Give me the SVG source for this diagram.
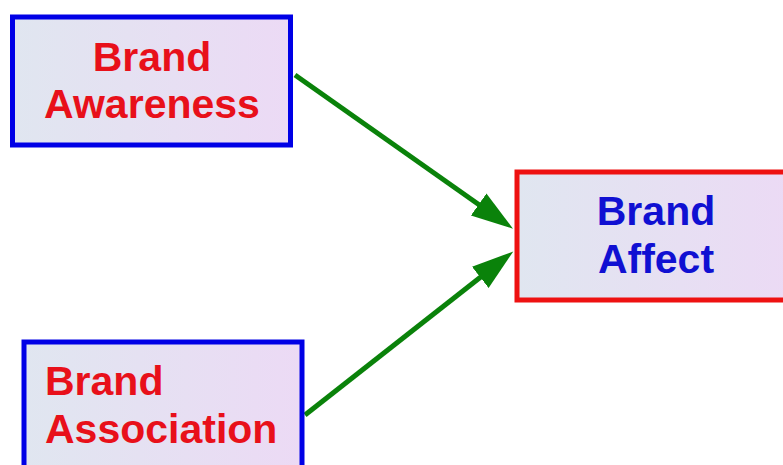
<svg xmlns="http://www.w3.org/2000/svg" width="783" height="465" viewBox="0 0 783 465">
<style>
.box{fill:url(#bg);stroke-width:5}
.src{stroke:#0000e6}
.dst{stroke:#ee1111}
.t{font-family:"Liberation Sans",Arial,sans-serif;font-weight:bold;font-size:41px}
.red{fill:#e8101a}
.blue{fill:#1010d2}
.conn{stroke:#0a820a;stroke-width:5;fill:none;marker-end:url(#ah)}
</style>
<defs>
<linearGradient id="bg" x1="0" y1="0" x2="1" y2="0">
<stop offset="0" stop-color="#e0e6f0"/>
<stop offset="1" stop-color="#ecdaf5"/>
</linearGradient>
<marker id="ah" markerUnits="userSpaceOnUse" markerWidth="46" markerHeight="30" refX="20" refY="13.5" orient="auto">
<path d="M0,0 L42,13.5 L0,27 z" fill="#0a820a"/>
</marker>
</defs>
<rect width="783" height="465" fill="#ffffff"/>
<g id="connectors">
<path class="conn" d="M295,75 L495,216"/>
<path class="conn" d="M305,415 L496,265"/>
</g>
<g id="brand-awareness">
<rect class="box src" x="12.5" y="17" width="278" height="128"/>
<text class="t red" x="152" y="71" text-anchor="middle">Brand</text>
<text class="t red" x="152" y="118" text-anchor="middle">Awareness</text>
</g>
<g id="brand-affect">
<rect class="box dst" x="517" y="172" width="280" height="128"/>
<text class="t blue" x="656" y="225" text-anchor="middle">Brand</text>
<text class="t blue" x="656" y="273" text-anchor="middle">Affect</text>
</g>
<g id="brand-association">
<rect class="box src" x="24" y="342" width="278" height="140"/>
<text class="t red" x="45" y="395">Brand</text>
<text class="t red" x="45" y="443">Association</text>
</g>
</svg>
